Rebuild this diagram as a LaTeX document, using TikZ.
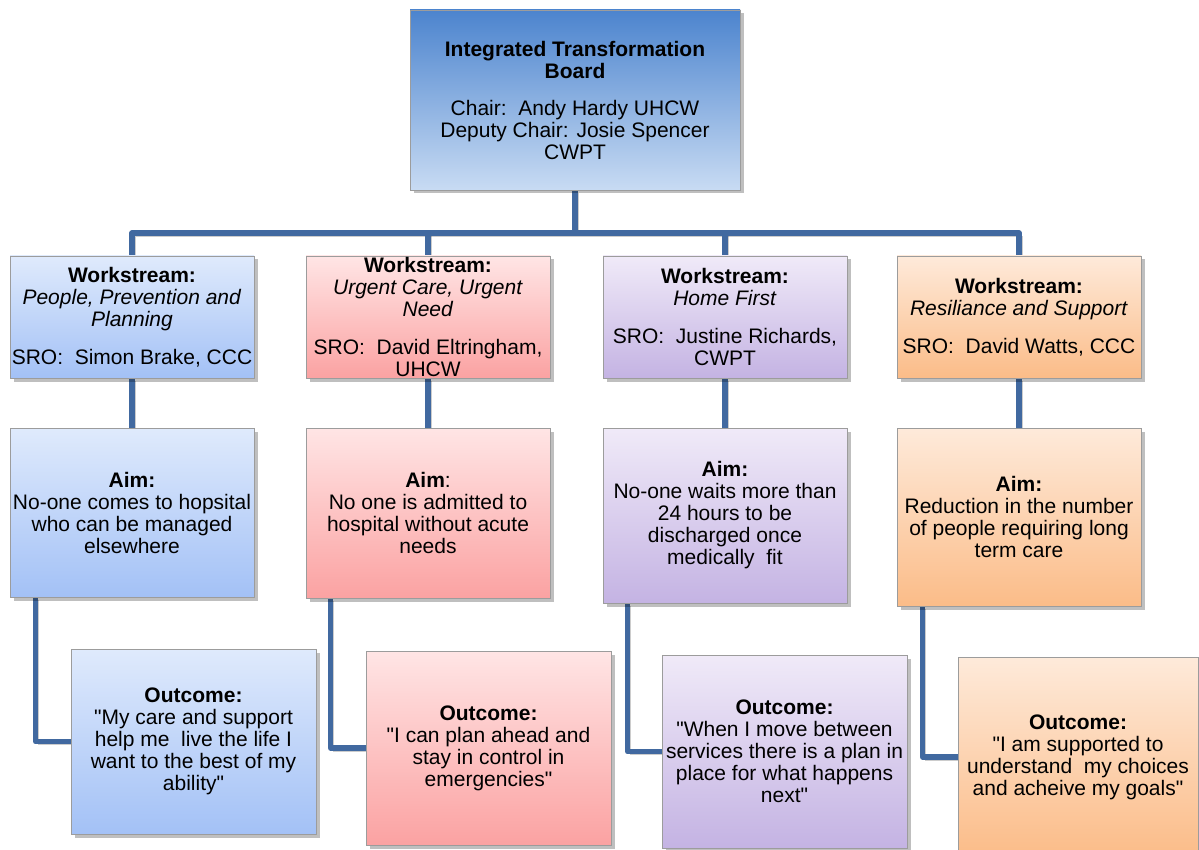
\documentclass[tikz,border=0pt]{standalone}
\usepackage{fontspec}
\setmainfont{Liberation Sans}[Ligatures=TeXOff]
\usetikzlibrary{shadows,calc}
\newcommand{\dq}{\symbol{34}}
\definecolor{bordergray}{HTML}{9C9C9C}
\definecolor{connblue}{HTML}{4169A0}
\definecolor{topT}{HTML}{4C84CE}
\definecolor{topB}{HTML}{C8DBF3}
\definecolor{blueT}{HTML}{DFEAFC}
\definecolor{blueB}{HTML}{A3C1F6}
\definecolor{pinkT}{HTML}{FFE5E5}
\definecolor{pinkB}{HTML}{FBA2A2}
\definecolor{purpT}{HTML}{F0EAF8}
\definecolor{purpB}{HTML}{C4B3E3}
\definecolor{oranT}{HTML}{FEEADA}
\definecolor{oranB}{HTML}{FBBC88}
\pgfdeclarelayer{back}
\pgfdeclarelayer{bg}
\pgfsetlayers{back,bg,main}
\tikzset{
  box/.style={draw=bordergray, line width=0.7pt, align=center, inner sep=0pt,
    font=\fontsize{21}{22}\selectfont,
    drop shadow={shadow xshift=3.5pt, shadow yshift=-3.5pt, opacity=0.25, fill=black}},
  topbox/.style={box, top color=topT, bottom color=topB},
  bluebox/.style={box, top color=blueT, bottom color=blueB},
  pinkbox/.style={box, top color=pinkT, bottom color=pinkB},
  purpbox/.style={box, top color=purpT, bottom color=purpB},
  oranbox/.style={box, top color=oranT, bottom color=oranB},
  conn/.style={draw=connblue, line width=5.5pt, line join=round,
    preaction={draw=black, opacity=0.2, transform canvas={shift={(3pt,-3pt)}}}}
}
\begin{document}
\begin{tikzpicture}[x=1pt,y=-1pt]
\useasboundingbox (0,0) rectangle (1199,850);
\begin{pgfonlayer}{back}
\fill[white] (0,0) rectangle (1199,850);
\end{pgfonlayer}

% top
\node[topbox, minimum width=330, minimum height=180] (top) at (575,100)
 {\textbf{Integrated Transformation}\\\textbf{Board}\\[15pt]
  Chair:\ \ Andy Hardy UHCW\\Deputy Chair: Josie Spencer\\CWPT};

% workstreams
\node[bluebox, minimum width=244, minimum height=122] (ws1) at (132,317)
 {\textbf{Workstream:}\\\textit{People, Prevention and}\\\textit{Planning}\\[16pt]SRO:\ \ Simon Brake, CCC};
\node[pinkbox, minimum width=244, minimum height=122] (ws2) at (428,317)
 {\textbf{Workstream:}\\\textit{Urgent Care, Urgent}\\\textit{Need}\\[16pt]SRO:\ \ David Eltringham,\\UHCW};
\node[purpbox, minimum width=244, minimum height=122] (ws3) at (725,317)
 {\textbf{Workstream:}\\\textit{Home First}\\[16pt]SRO:\ \ Justine Richards,\\CWPT};
\node[oranbox, minimum width=244, minimum height=122] (ws4) at (1019,317)
 {\textbf{Workstream:}\\\textit{Resiliance and Support}\\[16pt]SRO:\ \ David Watts, CCC};

% aims
\node[bluebox, minimum width=244, minimum height=169] (aim1) at (132,512.5)
 {\textbf{Aim:}\\No-one comes to hopsital\\who can be managed\\elsewhere};
\node[pinkbox, minimum width=244, minimum height=170] (aim2) at (428,513)
 {\textbf{Aim}:\\No one is admitted to\\hospital without acute\\needs};
\node[purpbox, minimum width=244, minimum height=175] (aim3) at (725,515.5)
 {\textbf{Aim:}\\No-one waits more than\\24 hours to be\\discharged once\\medically\ \ fit};
\node[oranbox, minimum width=244, minimum height=178] (aim4) at (1019,517)
 {\textbf{Aim:}\\Reduction in the number\\of people requiring long\\term care};

% outcomes
\node[bluebox, minimum width=245, minimum height=185] (out1) at (193.5,741.5)
 {\textbf{Outcome:}\\\dq My care and support\\help me\ \ live the life I\\want to the best of my\\ability\dq};
\node[pinkbox, minimum width=245, minimum height=194] (out2) at (488.5,748)
 {\textbf{Outcome:}\\\dq I can plan ahead and\\stay in control in\\emergencies\dq};
\node[purpbox, minimum width=245, minimum height=193] (out3) at (784.5,751.5)
 {\textbf{Outcome:}\\\dq When I move between\\services there is a plan in\\place for what happens\\next\dq};
\node[oranbox, minimum width=240, minimum height=200] (out4) at (1078,757)
 {\textbf{Outcome:}\\\dq I am supported to\\understand\ \ my choices\\and acheive my goals\dq};

\begin{pgfonlayer}{bg}
\coordinate (bar) at (575,233);
\draw[conn] (top.south) -- (top.south |- bar);
\draw[conn] (ws1.north) -- (ws1.north |- bar) -- (ws4.north |- bar) -- (ws4.north);
\draw[conn] (ws2.north) -- (ws2.north |- bar);
\draw[conn] (ws3.north) -- (ws3.north |- bar);
\draw[conn] (ws1.south) -- (aim1.north);
\draw[conn] (ws2.south) -- (aim2.north);
\draw[conn] (ws3.south) -- (aim3.north);
\draw[conn] (ws4.south) -- (aim4.north);
\draw[conn] ($(aim1.south west)+(26,0)$) |- (out1.west);
\draw[conn] ($(aim2.south west)+(25,0)$) |- (out2.west);
\draw[conn] ($(aim3.south west)+(25,0)$) |- (out3.west);
\draw[conn] ($(aim4.south west)+(26,0)$) |- (out4.west);
\end{pgfonlayer}
\end{tikzpicture}
\end{document}
